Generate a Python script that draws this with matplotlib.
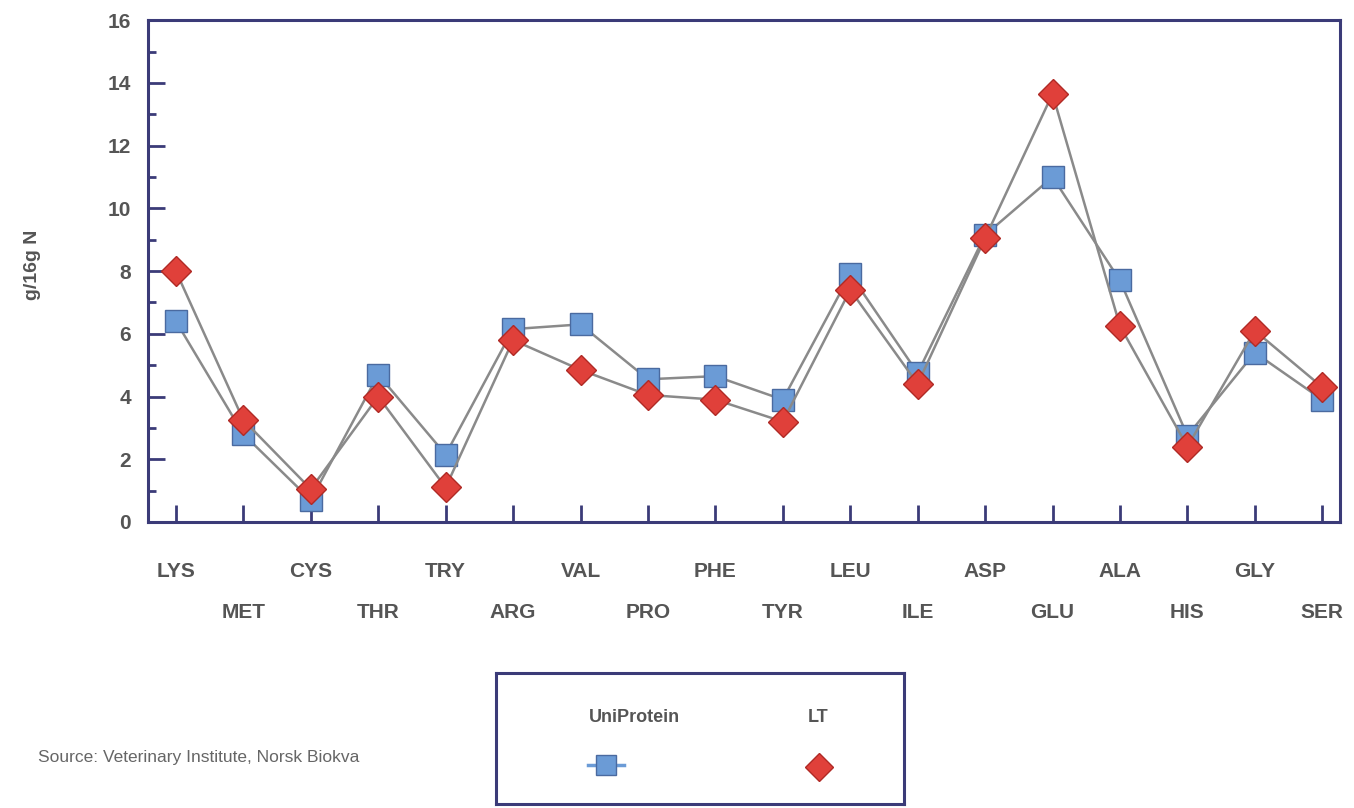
'''Aminosyreprofil: UniProtein mot LT'''

import numpy as np
import matplotlib.pyplot as plt
from matplotlib.lines import Line2D
from matplotlib.ticker import MultipleLocator

# Data
amino_acids = ['LYS', 'MET', 'CYS', 'THR', 'TRY', 'ARG', 'VAL', 'PRO', 'PHE',
               'TYR', 'LEU', 'ILE', 'ASP', 'GLU', 'ALA', 'HIS', 'GLY', 'SER']
uniprotein = [6.4, 2.8, 0.7, 4.7, 2.15, 6.15, 6.3, 4.55, 4.65,
              3.9, 7.9, 4.75, 9.15, 11.0, 7.7, 2.75, 5.4, 3.9]
lt = [8.0, 3.25, 1.05, 4.0, 1.1, 5.8, 4.85, 4.05, 3.9,
      3.2, 7.4, 4.4, 9.05, 13.65, 6.25, 2.4, 6.1, 4.3]
series_names = ['UniProtein', 'LT']

NAVY = '#3b3b78'
TEXT = '#555555'
BLUE = '#6b9bd6'
RED = '#e0403a'
LINE = '#8a8a8a'

plt.rcParams['font.family'] = ['Liberation Sans', 'DejaVu Sans']

fig = plt.figure(figsize=(13.54, 8.08), dpi=100)
ax = fig.add_axes([0.109, 0.354, 0.881, 0.621])

x = np.arange(len(amino_acids))
ax.plot(x, uniprotein, color=LINE, lw=1.8, marker='s', ms=16,
        mfc=BLUE, mec='#4a6aa0', mew=1, zorder=3)
ax.plot(x, lt, color=LINE, lw=1.8, marker='D', ms=15,
        mfc=RED, mec='#b02a25', mew=1, zorder=4)

ax.set_xlim(-0.42, 17.27)
ax.set_ylim(0, 16)
ax.yaxis.set_major_locator(MultipleLocator(2))
ax.yaxis.set_minor_locator(MultipleLocator(1))
ax.set_xticks(x)
ax.set_xticklabels([])

for sp in ax.spines.values():
    sp.set_color(NAVY)
    sp.set_linewidth(2.2)
ax.tick_params(axis='y', which='major', direction='in', length=12, width=2,
               color=NAVY, labelsize=15, labelcolor=TEXT, pad=12)
ax.tick_params(axis='y', which='minor', direction='in', length=6, width=2,
               color=NAVY)
ax.tick_params(axis='x', direction='in', length=12, width=2, color=NAVY)
for lab in ax.get_yticklabels():
    lab.set_fontweight('bold')

# Etiketter i to rader
for i, name in enumerate(amino_acids):
    row = 0 if i % 2 == 0 else 1
    ax.annotate(name, xy=(i, 0), xycoords=('data', 'axes fraction'),
                xytext=(0, -36 - 29 * row), textcoords='offset points',
                ha='center', va='center', fontsize=15, fontweight='bold',
                color=TEXT)

fig.text(0.024, 0.672, 'g/16g N', rotation=90, ha='center', va='center',
         fontsize=14, fontweight='bold', color=TEXT)

# Forklaring
leg = fig.add_axes([0.366, 0.005, 0.302, 0.162])
leg.set_xlim(0, 1)
leg.set_ylim(0, 1)
leg.set_xticks([])
leg.set_yticks([])
for sp in leg.spines.values():
    sp.set_color(NAVY)
    sp.set_linewidth(2.2)
leg.text(0.34, 0.66, series_names[0], ha='center', va='center', fontsize=13,
         fontweight='bold', color=TEXT)
leg.text(0.79, 0.66, series_names[1], ha='center', va='center', fontsize=13,
         fontweight='bold', color=TEXT)
leg.add_line(Line2D([0.225, 0.27, 0.315], [0.30, 0.30, 0.30], color=BLUE,
                    lw=2.5, marker='s', ms=14, mfc=BLUE, mec='#4a6aa0',
                    markevery=[1]))
leg.add_line(Line2D([0.79], [0.28], marker='D', ms=14, mfc=RED,
                    mec='#b02a25', lw=0))

fig.text(0.028, 0.063, 'Source: Veterinary Institute, Norsk Biokva',
         fontsize=12.5, color='#666666', va='center')

fig.savefig('out.png', dpi=100)
